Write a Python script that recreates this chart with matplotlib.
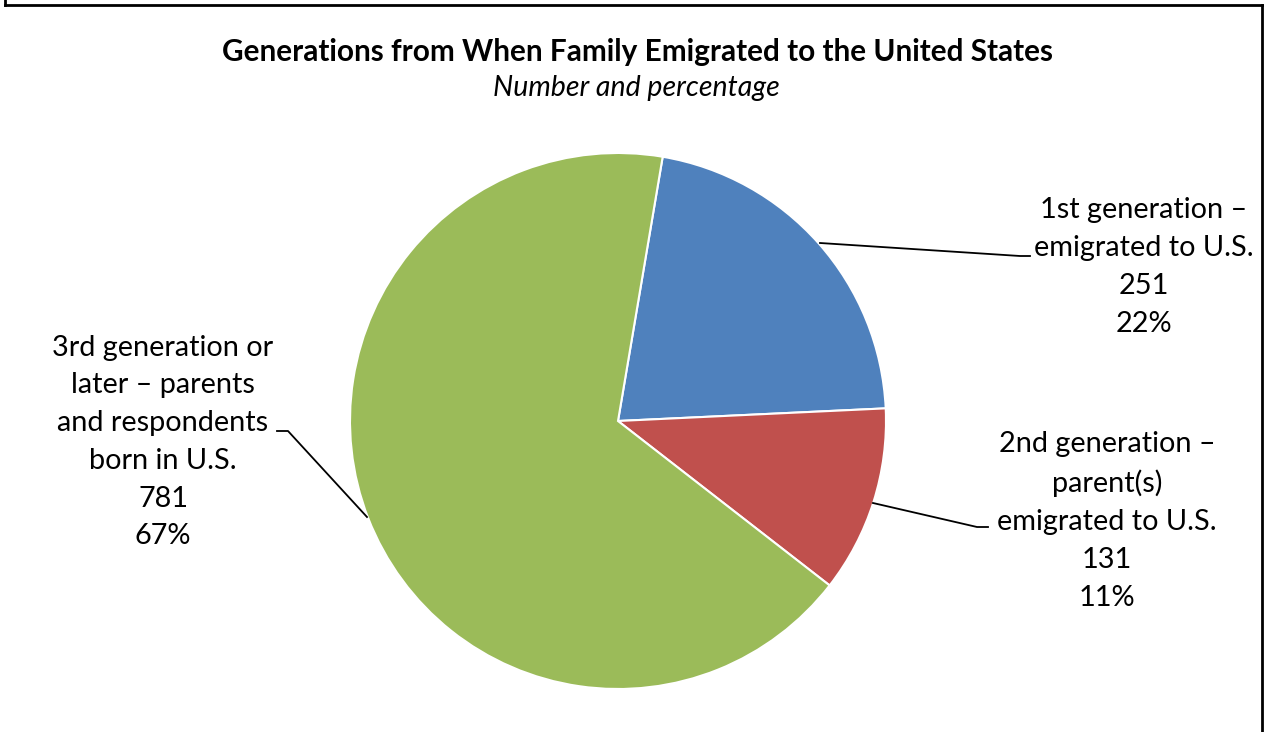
import matplotlib
matplotlib.use("Agg")
import matplotlib.pyplot as plt
from matplotlib.lines import Line2D

plt.rcParams['font.family'] = ['Lato', 'DejaVu Sans']

# Data
labels = ['1st generation –\nemigrated to U.S.',
          '2nd generation –\nparent(s)\nemigrated to U.S.',
          '3rd generation or\nlater – parents\nand respondents\nborn in U.S.']
counts = [251, 131, 781]
percents = ['22%', '11%', '67%']
colors = ['#4F81BD', '#C0504D', '#9BBB59']

W, H = 1268, 732
fig = plt.figure(figsize=(W / 100, H / 100), dpi=100)
ax = fig.add_axes([0, 0, 1, 1])

def py(y):
    # pixel row (from top) -> data y (from bottom)
    return H - y

ax.pie(counts, colors=colors, startangle=80.4, counterclock=False,
       center=(618, py(421)), radius=268,
       wedgeprops=dict(edgecolor='white', linewidth=1.5))
ax.set_xlim(0, W)
ax.set_ylim(0, H)
ax.set_aspect('equal')
ax.axis('off')

# frame round the chart
for xs, ys in [([5, 5], [0, 5]), ([5, 1262], [5, 5]), ([1262, 1262], [5, H])]:
    ax.add_line(Line2D(xs, [py(v) for v in ys], color='black', lw=2))

ax.text(637, py(52), 'Generations from When Family Emigrated to the United States',
        ha='center', va='center', fontsize=21.4, fontweight='bold')
ax.text(636, py(88), 'Number and percentage', ha='center', va='center',
        fontsize=20.5, style='italic')

# data labels with leader lines
label_pos = [(1144, 267), (1107, 521), (163, 442)]
leaders = [
    [(820, 243), (1020, 256), (1030, 256)],
    [(873, 503), (977, 527), (988, 527)],
    [(367, 517), (288, 431), (277, 431)],
]
for lab, n, pct, (tx, ty), pts in zip(labels, counts, percents, label_pos, leaders):
    ax.text(tx, py(ty), '%s\n%d\n%s' % (lab, n, pct), ha='center', va='center',
            fontsize=20.8, linespacing=1.56)
    ax.add_line(Line2D([p[0] for p in pts], [py(p[1]) for p in pts],
                       color='black', lw=1.3))

plt.savefig('out.png', dpi=100)
